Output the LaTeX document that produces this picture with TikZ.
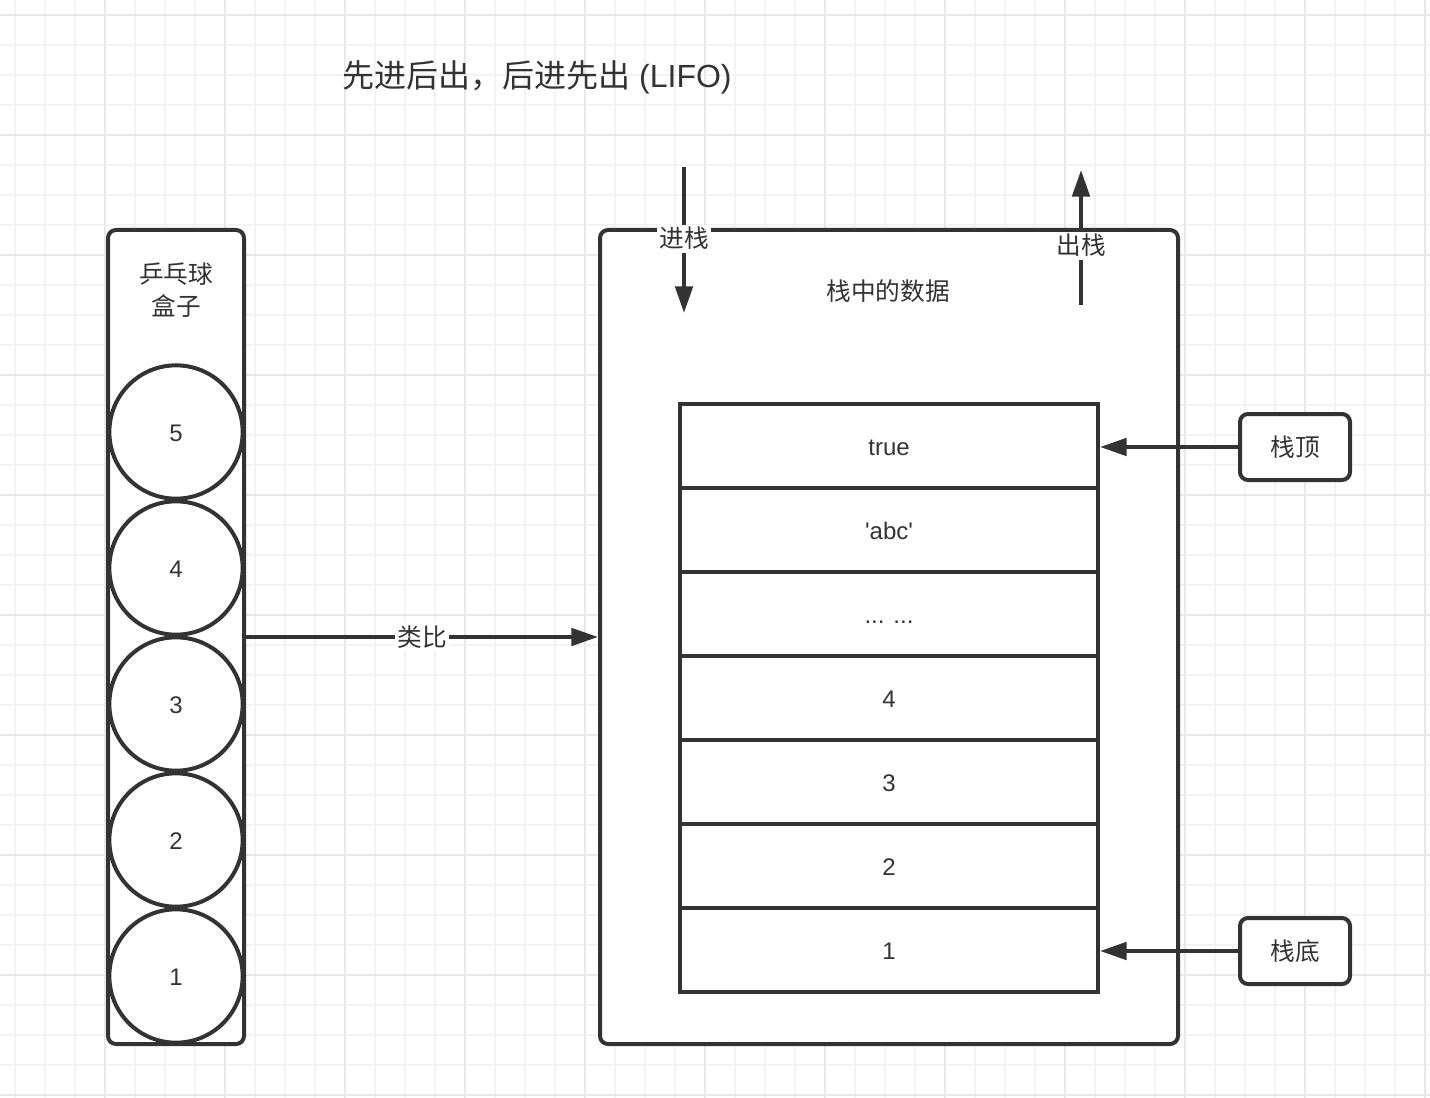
\documentclass[tikz,border=0pt]{standalone}
\usepackage{fontspec}
\setmainfont{Liberation Sans}
\newfontfamily\cjk{Noto Sans CJK SC}
\usetikzlibrary{arrows.meta}
\definecolor{ink}{HTML}{333333}
\definecolor{gridminor}{HTML}{F3F3F3}
\definecolor{gridmajor}{HTML}{E8E8E8}
\tikzset{
  ln/.style={draw=ink, line width=3pt},
  boxrnd/.style={ln, fill=white, rounded corners=6pt, inner sep=0pt},
  ball/.style={ln, fill=white, circle, minimum size=100pt, inner sep=0pt, font=\fontsize{18}{22}\selectfont, text=ink, text height=14pt, text depth=0pt},
  cell/.style={ln, fill=white, rectangle, minimum width=313.5pt, minimum height=63pt, inner sep=0pt, font=\fontsize{18}{22}\selectfont, text=ink, text height=14pt, text depth=0pt},
  txt/.style={text=ink, font=\fontsize{18.5}{24}\selectfont\cjk, align=center, inner sep=1pt},
  lbl/.style={txt, fill=white, inner sep=2pt},
  arr/.style={draw=ink, line width=3pt, -{Triangle[length=20pt,width=13pt]}},
}
\begin{document}
\begin{tikzpicture}[x=0.75pt,y=-0.75pt]
\useasboundingbox (0,0) rectangle (1430,1098);
\fill[white] (0,0) rectangle (1430,1098);
% grid background
\foreach \g in {15,45,...,1425} \draw[gridminor, line width=1pt] (\g,0) -- (\g,1098);
\foreach \g in {15,45,...,1095} \draw[gridminor, line width=1pt] (0,\g) -- (1430,\g);
\foreach \g in {105,225,...,1425} \draw[gridmajor, line width=1pt] (\g,0) -- (\g,1098);
\foreach \g in {15,135,...,1095} \draw[gridmajor, line width=1pt] (0,\g) -- (1430,\g);

% title
\node[text=ink, font=\fontsize{24}{28}\selectfont, anchor=west, inner sep=0pt] (title) at (342,77) {{\cjk 先进后出，后进先出} (LIFO)};

% left box
\node[boxrnd, minimum width=102pt, minimum height=610.5pt] (lbox) at (176,637) {};
\node[txt] (lboxt) at (176,290) {乒乓球\\盒子};
\node[ball] (b5) at (176,432) {5};
\node[ball] (b4) at (176,568) {4};
\node[ball] (b3) at (176,704) {3};
\node[ball] (b2) at (176,840) {2};
\node[ball] (b1) at (176,976) {1};

% right box
\node[boxrnd, minimum width=433.5pt, minimum height=610.5pt] (rbox) at (889,637) {};
\node[txt] (rboxt) at (888,291) {栈中的数据};

% stack cells
\node[cell] (c7) at (889,446) {true};
\node[cell] (c6) at (889,530) {\textquotesingle abc\textquotesingle};
\node[cell] (c5) at (889,614) {... ...};
\node[cell] (c4) at (889,698) {4};
\node[cell] (c3) at (889,782) {3};
\node[cell] (c2) at (889,866) {2};
\node[cell] (c1) at (889,950) {1};

% push / pop
\coordinate (pushS) at (684,167);
\coordinate (pushE) at (684,313);
\draw[arr] (pushS) -- (pushE) node[lbl, pos=0.49] (pushL) {进栈};
\coordinate (popS) at (1081,305);
\coordinate (popE) at (1081,170);
\draw[arr] (popS) -- (popE) node[lbl, pos=0.44] (popL) {出栈};

% top / bottom labels
\node[boxrnd, minimum width=82.5pt, minimum height=49.5pt, txt] (top) at (1295,447) {栈顶};
\node[boxrnd, minimum width=82.5pt, minimum height=49.5pt, txt] (bot) at (1295,951) {栈底};
\draw[arr] (top.west) -- (top.west -| c7.east);
\draw[arr] (bot.west) -- (bot.west -| c1.east);

% analogy
\draw[arr] (lbox.east) -- (rbox.west) node[lbl, midway] (anaL) {类比};
\end{tikzpicture}
\end{document}
